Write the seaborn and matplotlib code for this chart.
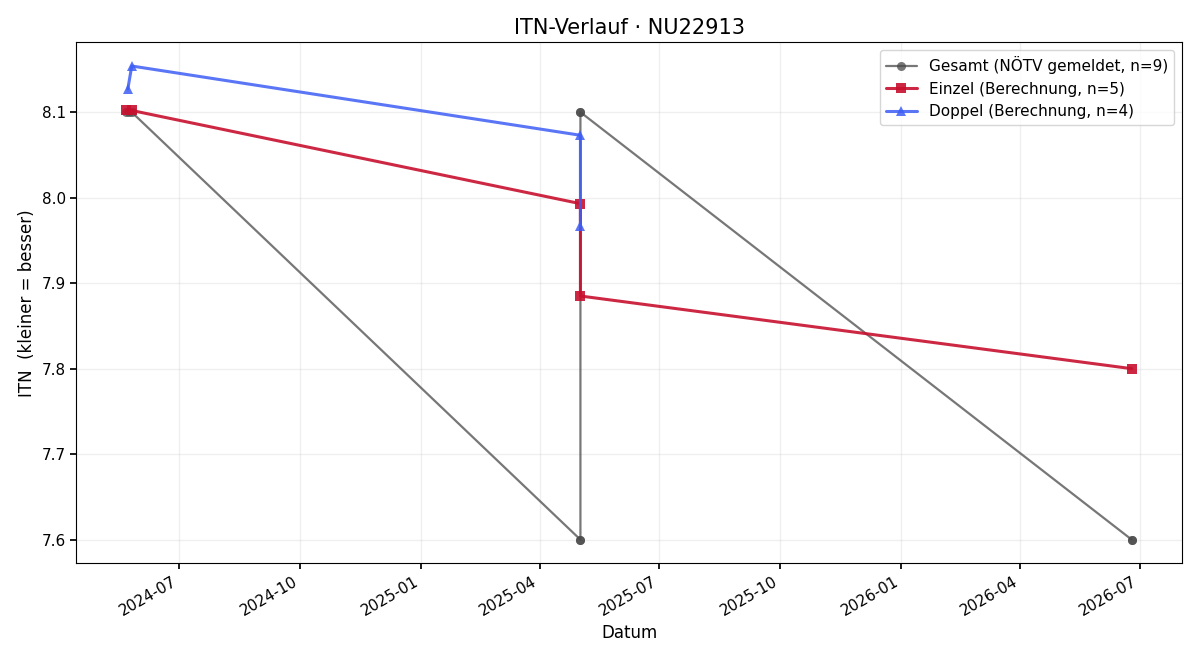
import numpy as np
import pandas as pd
import matplotlib
matplotlib.use("Agg")
import matplotlib.pyplot as plt
import matplotlib.dates as mdates
import seaborn as sns

sns.set_theme(style="white")
plt.rcParams["font.family"] = ["DejaVu Sans"]
plt.rcParams.update({"text.color": "black", "axes.labelcolor": "black",
                     "xtick.color": "black", "ytick.color": "black"})

# Gesamt (NÖTV gemeldet) – several points overlap
gesamt_dates = ["2024-05-22", "2024-05-24", "2024-05-26", "2025-05-02", "2025-05-02",
                "2025-05-02", "2025-05-02", "2026-06-25", "2026-06-25"]
gesamt_itn = [8.1, 8.1, 8.1, 7.6, 7.6, 8.1, 8.1, 7.6, 7.6]

einzel_dates = ["2024-05-22", "2024-05-26", "2025-05-02", "2025-05-02", "2026-06-25"]
einzel_itn = [8.102, 8.102, 7.993, 7.885, 7.800]

doppel_dates = ["2024-05-23", "2024-05-26", "2025-05-02", "2025-05-02"]
doppel_itn = [8.127, 8.154, 8.073, 7.967]

SERIES = [
    ("Gesamt (NÖTV gemeldet, n=9)", gesamt_dates, gesamt_itn, "#4a4a4a", "o", 1.6, 0.75, 6.5),
    ("Einzel (Berechnung, n=5)", einzel_dates, einzel_itn, "#c8102e", "s", 2.2, 0.9, 7.5),
    ("Doppel (Berechnung, n=4)", doppel_dates, doppel_itn, "#3d5ef5", "^", 2.2, 0.85, 7.5),
]

fig, ax = plt.subplots(figsize=(12, 6.6), dpi=100)
for label, dates, vals, color, marker, lw, alpha, ms in SERIES:
    df = pd.DataFrame({"Datum": pd.to_datetime(dates), "ITN": vals})
    sns.lineplot(data=df, x="Datum", y="ITN", estimator=None, sort=False, ax=ax,
                 color=color, marker=marker, linewidth=lw, alpha=alpha,
                 markersize=ms, markeredgewidth=0, label=label)

ax.set_title("ITN-Verlauf · NU22913", fontsize=15)
ax.set_xlabel("Datum", fontsize=12)
ax.set_ylabel("ITN  (kleiner = besser)", fontsize=12)
ax.grid(True, alpha=0.3)
ax.xaxis.set_major_locator(mdates.MonthLocator(bymonth=[1, 4, 7, 10]))
ax.xaxis.set_major_formatter(mdates.DateFormatter("%Y-%m"))
ax.tick_params(axis="both", labelsize=11, length=4, bottom=True, left=True)
for s in ax.spines.values():
    s.set_color("black")
    s.set_linewidth(0.8)
fig.autofmt_xdate(rotation=30, ha="right")
ax.legend(loc="upper right", fontsize=11)
plt.tight_layout()
plt.savefig("out.png")
